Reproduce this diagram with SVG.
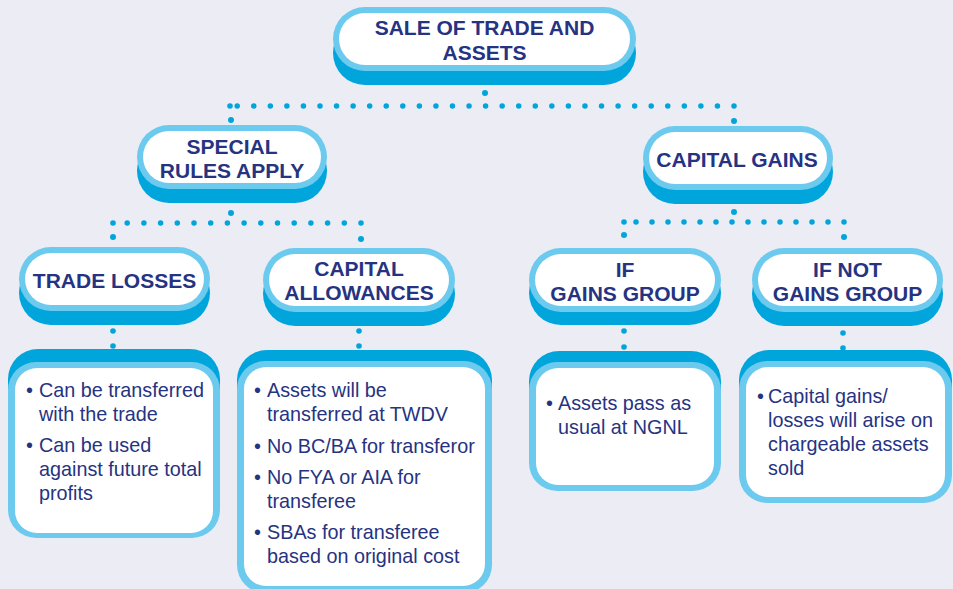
<svg xmlns="http://www.w3.org/2000/svg" width="953" height="589" viewBox="0 0 953 589">
  <style>
    .dark { fill: #00A5DC; }
    .light { fill: #6CCAEE; }
    .white { fill: #FFFFFF; }
    .title { font-family: "Liberation Sans", Arial, sans-serif; font-weight: bold; font-size: 21px; fill: #263381; text-anchor: middle; }
    .body { font-family: "Liberation Sans", Arial, sans-serif; font-size: 19.8px; fill: #263381; }
    .dotrow { fill: none; stroke: #00A5DC; stroke-width: 5.5; stroke-linecap: round; }
    .dot { fill: #00A5DC; }
  </style>
  <rect x="0" y="0" width="953" height="589" fill="#ECECF5"/>

  <!-- connectors -->
  <g id="connectors">
    <!-- root to level 2 -->
    <circle class="dot" cx="485" cy="93" r="3"/>
    <line class="dotrow" x1="734" y1="106" x2="237" y2="106" stroke-dasharray="0 16.56"/>
    <circle class="dot" cx="230" cy="106" r="2.8"/>
    <circle class="dot" cx="231" cy="120" r="3"/>
    <circle class="dot" cx="734" cy="121" r="3"/>
    <!-- special rules to level 3 -->
    <circle class="dot" cx="231" cy="213" r="3"/>
    <line class="dotrow" x1="361" y1="223" x2="126" y2="223" stroke-dasharray="0 16.7"/>
    <circle class="dot" cx="113" cy="223" r="2.8"/>
    <circle class="dot" cx="113" cy="237" r="3"/>
    <circle class="dot" cx="361" cy="239" r="3"/>
    <!-- capital gains to level 3 -->
    <circle class="dot" cx="734" cy="212" r="3"/>
    <line class="dotrow" x1="844" y1="222" x2="635.5" y2="222" stroke-dasharray="0 16"/>
    <circle class="dot" cx="624" cy="222" r="2.8"/>
    <circle class="dot" cx="624" cy="235" r="3"/>
    <circle class="dot" cx="844" cy="237" r="3"/>
    <!-- level 3 to detail boxes -->
    <circle class="dot" cx="113" cy="331" r="2.8"/>
    <circle class="dot" cx="113" cy="346" r="2.8"/>
    <circle class="dot" cx="359" cy="331" r="2.8"/>
    <circle class="dot" cx="359" cy="346" r="2.8"/>
    <circle class="dot" cx="624" cy="331" r="2.8"/>
    <circle class="dot" cx="624" cy="347" r="2.8"/>
    <circle class="dot" cx="843" cy="333" r="2.8"/>
    <circle class="dot" cx="843" cy="348" r="2.8"/>
  </g>

  <!-- level 1 -->
  <g id="sale-of-trade">
    <rect class="dark" x="333" y="21" width="303" height="64" rx="32"/>
    <rect class="light" x="333" y="7" width="303" height="64" rx="32"/>
    <rect class="white" x="339" y="13" width="291" height="52" rx="26"/>
    <text class="title" x="484.5" y="35">SALE OF TRADE AND</text>
    <text class="title" x="484.5" y="60">ASSETS</text>
  </g>

  <!-- level 2 -->
  <g id="special-rules">
    <rect class="dark" x="137" y="139" width="190" height="64" rx="32"/>
    <rect class="light" x="137" y="125" width="190" height="64" rx="32"/>
    <rect class="white" x="143" y="131" width="178" height="52" rx="26"/>
    <text class="title" x="232" y="154">SPECIAL</text>
    <text class="title" x="232" y="178">RULES APPLY</text>
  </g>

  <g id="capital-gains">
    <rect class="dark" x="643" y="140" width="190" height="64" rx="32"/>
    <rect class="light" x="643" y="126" width="190" height="64" rx="32"/>
    <rect class="white" x="649" y="132" width="178" height="52" rx="26"/>
    <text class="title" x="737" y="167">CAPITAL GAINS</text>
  </g>

  <!-- level 3 -->
  <g id="trade-losses">
    <rect class="dark" x="19" y="261" width="191" height="64" rx="32"/>
    <rect class="light" x="19" y="247" width="191" height="64" rx="32"/>
    <rect class="white" x="25" y="253" width="179" height="52" rx="26"/>
    <text class="title" x="114.5" y="288">TRADE LOSSES</text>
  </g>

  <g id="capital-allowances">
    <rect class="dark" x="263" y="262" width="192" height="64" rx="32"/>
    <rect class="light" x="263" y="248" width="192" height="64" rx="32"/>
    <rect class="white" x="269" y="254" width="180" height="52" rx="26"/>
    <text class="title" x="359" y="276">CAPITAL</text>
    <text class="title" x="359" y="300">ALLOWANCES</text>
  </g>

  <g id="if-gains-group">
    <rect class="dark" x="529" y="261" width="192" height="64" rx="32"/>
    <rect class="light" x="529" y="248" width="192" height="64" rx="32"/>
    <rect class="white" x="535" y="254" width="180" height="52" rx="26"/>
    <text class="title" x="625" y="277">IF</text>
    <text class="title" x="625" y="301">GAINS GROUP</text>
  </g>

  <g id="if-not-gains-group">
    <rect class="dark" x="752" y="262" width="191" height="64" rx="32"/>
    <rect class="light" x="752" y="248" width="191" height="64" rx="32"/>
    <rect class="white" x="758" y="254" width="179" height="52" rx="26"/>
    <text class="title" x="847.5" y="277">IF NOT</text>
    <text class="title" x="847.5" y="301">GAINS GROUP</text>
  </g>

  <!-- detail boxes -->
  <g id="trade-losses-detail">
    <rect class="dark" x="8" y="349" width="212" height="80" rx="30"/>
    <rect class="light" x="8" y="362" width="212" height="176" rx="28"/>
    <rect class="white" x="15" y="368" width="198" height="165" rx="22"/>
    <text class="body" x="26" y="397">•</text>
    <text class="body" x="39" y="397">Can be transferred</text>
    <text class="body" x="39" y="421">with the trade</text>
    <text class="body" x="26" y="452">•</text>
    <text class="body" x="39" y="452">Can be used</text>
    <text class="body" x="39" y="476">against future total</text>
    <text class="body" x="39" y="500">profits</text>
  </g>

  <g id="capital-allowances-detail">
    <rect class="dark" x="237" y="350" width="255" height="80" rx="30"/>
    <rect class="light" x="237" y="361" width="255" height="232" rx="28"/>
    <rect class="white" x="244" y="367" width="241" height="219" rx="22"/>
    <text class="body" x="254" y="397">•</text>
    <text class="body" x="267" y="397">Assets will be</text>
    <text class="body" x="267" y="421">transferred at TWDV</text>
    <text class="body" x="254" y="453">•</text>
    <text class="body" x="267" y="453">No BC/BA for transferor</text>
    <text class="body" x="254" y="484">•</text>
    <text class="body" x="267" y="484">No FYA or AIA for</text>
    <text class="body" x="267" y="508">transferee</text>
    <text class="body" x="254" y="539">•</text>
    <text class="body" x="267" y="539">SBAs for transferee</text>
    <text class="body" x="267" y="563">based on original cost</text>
  </g>

  <g id="if-gains-group-detail">
    <rect class="dark" x="529" y="351" width="192" height="80" rx="30"/>
    <rect class="light" x="529" y="362" width="192" height="129" rx="28"/>
    <rect class="white" x="536" y="368" width="178" height="117" rx="22"/>
    <text class="body" x="546" y="410">•</text>
    <text class="body" x="558" y="410">Assets pass as</text>
    <text class="body" x="558" y="434">usual at NGNL</text>
  </g>

  <g id="if-not-gains-group-detail">
    <rect class="dark" x="739" y="350" width="213" height="80" rx="30"/>
    <rect class="light" x="739" y="361" width="213" height="142" rx="28"/>
    <rect class="white" x="746" y="367" width="199" height="130" rx="22"/>
    <text class="body" x="757" y="403">•</text>
    <text class="body" x="768" y="403">Capital gains/</text>
    <text class="body" x="768" y="427">losses will arise on</text>
    <text class="body" x="768" y="451">chargeable assets</text>
    <text class="body" x="768" y="475">sold</text>
  </g>
</svg>
